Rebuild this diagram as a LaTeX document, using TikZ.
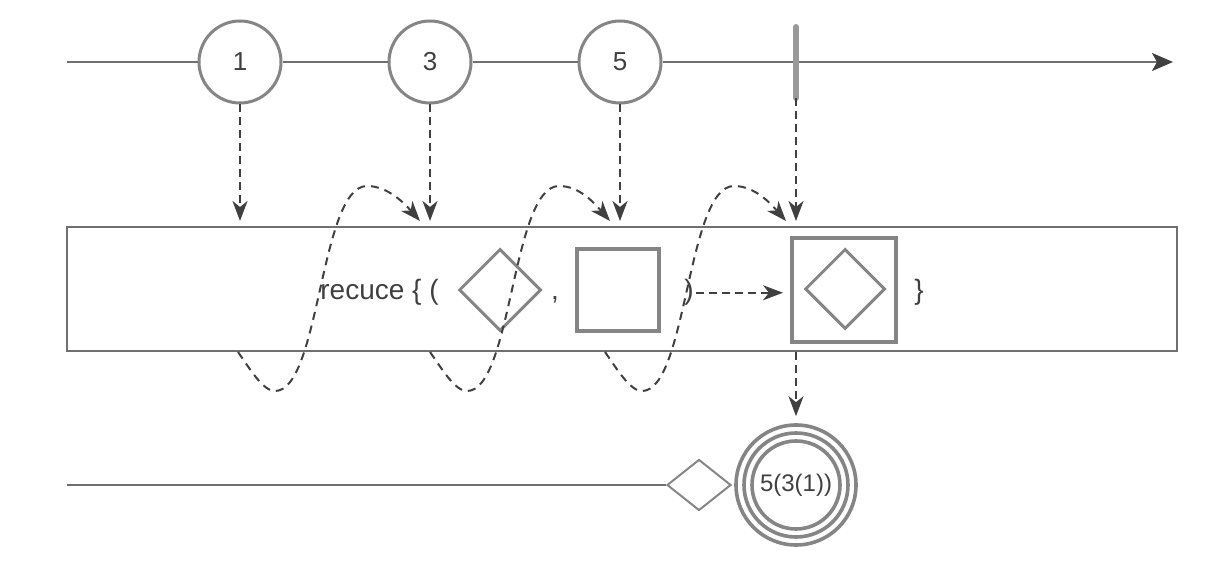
\documentclass[tikz,border=0pt]{standalone}
\usepackage{fontspec}
\setmainfont{Liberation Sans}
\usepackage{tikz}
\usetikzlibrary{calc}
\usetikzlibrary{arrows.meta}
\usetikzlibrary{shapes.geometric}

\definecolor{linegray}{HTML}{707070}
\definecolor{shapegray}{HTML}{858585}
\definecolor{darkgray}{HTML}{404040}
\definecolor{bargray}{HTML}{999999}

\begin{document}
\begin{tikzpicture}[x=.5pt, y=-.5pt,
  marble/.style={circle, draw=shapegray, line width=1.5pt, fill=white, minimum size=41pt, inner sep=0pt, text=darkgray, font=\fontsize{13}{15}\selectfont},
  feed/.style={darkgray, line width=1pt, dash pattern=on 4pt off 2.5pt, -{Stealth[length=10pt, width=7.5pt, inset=3pt]}},
  loopback/.style={feed, dash pattern=on 4pt off 3pt},
  txt/.style={text=darkgray, inner sep=1pt, anchor=base, font=\fontsize{14}{17}\selectfont},
  box/.style={draw=shapegray, line width=2pt, minimum size=#1, inner sep=0pt},
  gem/.style={diamond, draw=shapegray, line width=1.5pt, minimum size=#1, inner sep=0pt},
  ring/.style={circle, draw=shapegray, line width=1.8pt, minimum size=60pt, inner sep=0pt, text=darkgray, font=\fontsize{12}{14}\selectfont}]
\useasboundingbox (0,0) rectangle (1220,581);

% source stream
\coordinate (t0) at (67,62);
\coordinate (t1) at (1173,62);
\coordinate (done) at (796,98);
\node[marble] (m1) at (240,62) {1};
\node[marble] (m3) at (430,62) {3};
\node[marble] (m5) at (620,62) {5};
\draw[linegray, line width=1pt] (t0) -- (m1) (m1) -- (m3) (m3) -- (m5);
\draw[linegray, line width=1pt, -{Stealth[length=10.5pt, width=9pt, inset=2.5pt, color=darkgray]}] (m5) -- (t1);
\draw[bargray, line width=3pt, line cap=round] (796,27) -- (done);

% operator box
\node[draw=linegray, line width=1pt, minimum width=555pt, minimum height=62pt] (op) at (622,289) {};
\foreach \m in {m1, m3, m5, done} \draw[feed, shorten >=2.5pt] (\m) -- (\m |- op.north);

\node[txt, anchor=base west] (fn) at (318,300) {recuce \{ (};
\node[gem=41pt] (d1) at (500,290) {};
\node[txt] (cm) at (555,300) {,};
\node[box=41pt] (s1) at (618,290) {};
\node[txt] (rp) at (689,300) {)};
\node[box=52pt] (acc) at (844,290) {};
\node[gem=40pt] (d2) at (845,289) {};
\node[txt] (rb) at (919,300) {\}};
\draw[feed, shorten >=3.5pt] (rp.east) -- (rp.east -| acc.west);

% result stream
\coordinate (b0) at (67,485);
\node[ring] (res) at (796,485) {5(3(1))};
\draw[shapegray, line width=1.8pt] (res.center) circle[radius=26pt] circle[radius=22pt];
\node[diamond, draw=shapegray, line width=1pt, minimum width=32pt, minimum height=25.5pt, inner sep=0pt] (bd) at (699,485) {};
\draw[linegray, line width=1pt] (b0) -- (bd);
\draw[feed, shorten >=3.5pt] (op.south -| res) -- (res);

% accumulator feedback
\foreach \s/\t in {238/m3, 430/m5, 605/done}
  \draw[loopback] (\s,0 |- op.south) .. controls +(12,17) and +(-12,0) .. ++(37,39)
    .. controls +(45,0) and +(-47,0) .. ++(92,-205)
    .. controls +(21,0) and +(-15,-17) .. ([xshift=-5pt, yshift=2.5pt]\t |- op.north);

\end{tikzpicture}
\end{document}
